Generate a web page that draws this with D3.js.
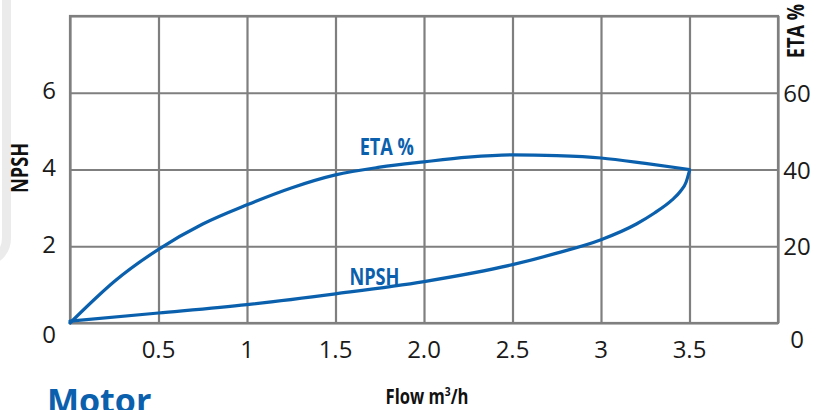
<!DOCTYPE html>
<html>
<head>
<meta charset="utf-8">
<script src="https://cdn.jsdelivr.net/npm/d3@7"></script>
<style>
  html, body { margin: 0; padding: 0; background: #fff; }
  svg { display: block; }
</style>
</head>
<body>
<div class="canva"></div>
<script>
// chart values
const flowTicks = [0.5, 1, 1.5, 2, 2.5, 3, 3.5];
const flowTickLabels = ["0.5", "1", "1.5", "2.0", "2.5", "3", "3.5"];
const npshTicks = [0, 2, 4, 6];
const etaTicks = [0, 20, 40, 60];

// ETA % curve (right axis)
const etaFlow = [0, 0.16, 0.25, 0.5, 0.75, 1.0, 1.25, 1.5, 1.75, 2.0, 2.25, 2.5, 2.75, 3.0, 3.25, 3.5];
const etaValues = [0, 7.1, 10.8, 19.2, 25.8, 30.8, 35.2, 38.6, 40.6, 42.0, 43.2, 43.8, 43.6, 43.0, 41.6, 40];

// NPSH curve (left axis)
const npshFlow = [0, 0.5, 1.0, 1.5, 2.0, 2.5, 2.75, 3.0, 3.2, 3.3, 3.4, 3.45, 3.48, 3.5];
const npshValues = [0.05, 0.26, 0.48, 0.76, 1.08, 1.52, 1.82, 2.17, 2.58, 2.86, 3.2, 3.44, 3.66, 3.97];

const blue = "#0b60ad";
const gridGray = "#7f7f7f";

const W = 824, H = 410;
const canvas = d3.select('.canva');
const svg = canvas.append('svg')
    .attr('width', W)
    .attr('height', H);

// light grey panel edge on the left
svg.append('rect')
    .attr('x', -30).attr('y', -30)
    .attr('width', 36.5).attr('height', 290)
    .attr('rx', 22)
    .attr('fill', 'none')
    .attr('stroke', '#ebebeb')
    .attr('stroke-width', 9);

const x = d3.scaleLinear().domain([0, 4]).range([70, 778]);
const yL = d3.scaleLinear().domain([0, 8]).range([323, 16]);
const yR = d3.scaleLinear().domain([0, 80]).range([323, 16]);

/* grid */
const grid = svg.append('g');
grid.append('g')
    .attr('transform', `translate(0,${yL(0)})`)
    .call(d3.axisBottom(x).tickValues(d3.range(0, 4.01, 0.5))
        .tickSize(-(yL(0) - yL(8))).tickFormat(''))
    .call(g => g.select('.domain').remove());
grid.append('g')
    .attr('transform', `translate(${x(0)},0)`)
    .call(d3.axisLeft(yL).tickValues(d3.range(0, 8.01, 2))
        .tickSize(-(x(4) - x(0))).tickFormat(''))
    .call(g => g.select('.domain').remove());
grid.selectAll('line')
    .attr('stroke', gridGray)
    .attr('stroke-width', 2.2);
grid.append('rect')
    .attr('x', x(0)).attr('y', yL(8))
    .attr('width', x(4) - x(0)).attr('height', yL(0) - yL(8))
    .attr('fill', 'none')
    .attr('stroke', gridGray)
    .attr('stroke-width', 2.2);

/* tick labels */
const tickFont = "'Open Sans', 'Noto Sans', sans-serif";
svg.append('g').selectAll('text')
    .data(flowTicks)
    .enter().append('text')
    .attr('x', d => x(d))
    .attr('y', 358)
    .attr('text-anchor', 'middle')
    .attr('font-family', tickFont)
    .attr('font-size', 24)
    .attr('fill', '#1a1a1a')
    .text((d, i) => flowTickLabels[i]);

svg.append('g').selectAll('text')
    .data(npshTicks)
    .enter().append('text')
    .attr('x', 49)
    .attr('y', d => yL(d) + (d === 0 ? 11 : -2))
    .attr('dy', '0.36em')
    .attr('text-anchor', 'middle')
    .attr('font-family', tickFont)
    .attr('font-size', 24)
    .attr('fill', '#1a1a1a')
    .text(d => d);

svg.append('g').selectAll('text')
    .data(etaTicks)
    .enter().append('text')
    .attr('x', 797)
    .attr('y', d => yR(d) + (d === 0 ? 16 : 0.5))
    .attr('dy', '0.36em')
    .attr('text-anchor', 'middle')
    .attr('font-family', tickFont)
    .attr('font-size', 24)
    .attr('fill', '#1a1a1a')
    .text(d => d);

/* curves */
const etaLine = d3.line()
    .x(d => x(d[0]))
    .y(d => yR(d[1]))
    .curve(d3.curveMonotoneX);
const npshLine = d3.line()
    .x(d => x(d[0]))
    .y(d => yL(d[1]))
    .curve(d3.curveMonotoneX);

svg.append('path')
    .datum(etaFlow.map((f, i) => [f, etaValues[i]]))
    .attr('d', etaLine)
    .attr('fill', 'none')
    .attr('stroke', blue)
    .attr('stroke-width', 3.2)
    .attr('stroke-linecap', 'round');

svg.append('path')
    .datum(npshFlow.map((f, i) => [f, npshValues[i]]))
    .attr('d', npshLine)
    .attr('fill', 'none')
    .attr('stroke', blue)
    .attr('stroke-width', 3.2)
    .attr('stroke-linecap', 'round');

/* condensed bold labels: Open Sans Bold squeezed horizontally */
const boldFont = "'Open Sans', 'Noto Sans', sans-serif";
function narrowLabel(cx, cy, angle, txt, color, size) {
    return svg.append('text')
        .attr('transform', `translate(${cx},${cy}) rotate(${angle}) scale(0.79,1)`)
        .attr('dy', '0.36em')
        .attr('text-anchor', 'middle')
        .attr('font-family', boldFont)
        .attr('font-weight', 'bold')
        .attr('font-size', size)
        .attr('fill', color)
        .text(txt);
}

narrowLabel(x(1.79), yR(45.9), 0, 'ETA %', blue, 23);
narrowLabel(x(1.72), yL(1.2), 0, 'NPSH', blue, 23);
narrowLabel(20, 168, -90, 'NPSH', '#111', 23);
narrowLabel(796, 31, -90, 'ETA %', '#111', 23);

const flowLabel = svg.append('text')
    .attr('transform', 'translate(427,404) scale(0.79,1)')
    .attr('text-anchor', 'middle')
    .attr('font-family', boldFont)
    .attr('font-weight', 'bold')
    .attr('font-size', 21)
    .attr('fill', '#111');
flowLabel.append('tspan').text('Flow m');
flowLabel.append('tspan').attr('font-size', 13).attr('dy', -8).text('3');
flowLabel.append('tspan').attr('dy', 8).text('/h');

svg.append('text')
    .attr('x', 47).attr('y', 413)
    .attr('font-family', "'Open Sans', 'Noto Sans', sans-serif")
    .attr('font-weight', 'bold')
    .attr('font-size', 34)
    .attr('fill', blue)
    .text('Motor');
</script>
</body>
</html>
